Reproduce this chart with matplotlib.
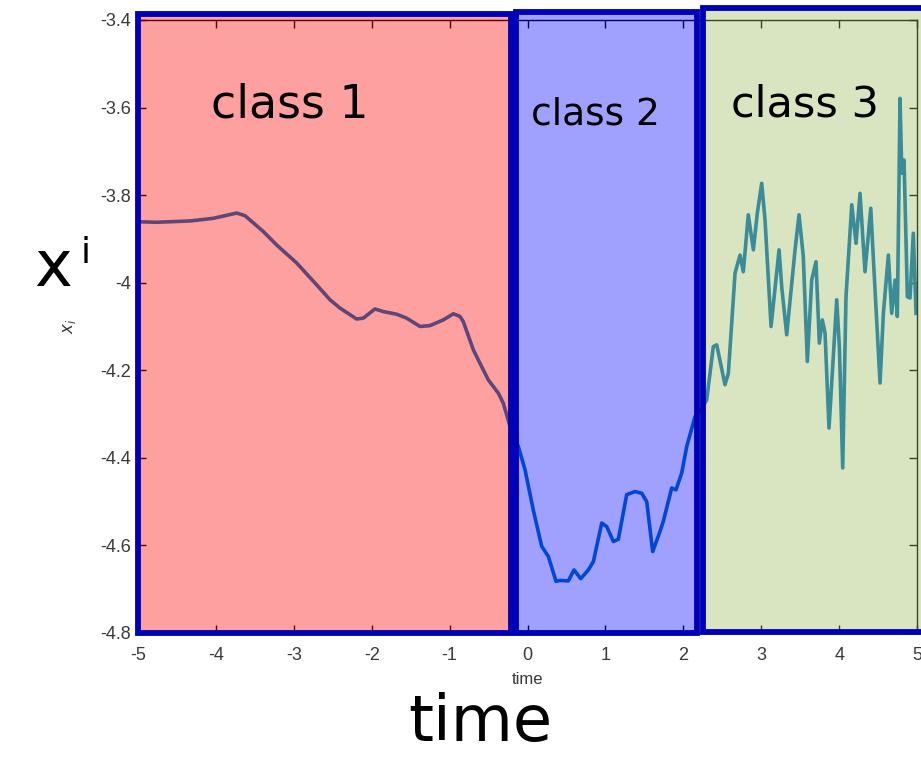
import matplotlib
matplotlib.use("Agg")
import matplotlib.pyplot as plt
from matplotlib.patches import Rectangle

# trajectory of x_i over time, one list per class segment
t_class1 = [-4.974, -4.760, -4.332, -4.033, -3.733, -3.626, -3.392, -3.219, -2.963, -2.706,
            -2.535, -2.407, -2.193, -2.108, -1.958, -1.851, -1.679, -1.551, -1.380, -1.252,
            -1.081, -0.952, -0.867, -0.824, -0.696, -0.610, -0.503, -0.375, -0.311, -0.225]
x_class1 = [-3.861, -3.862, -3.859, -3.853, -3.841, -3.847, -3.883, -3.914, -3.955, -4.005,
            -4.039, -4.058, -4.083, -4.081, -4.060, -4.066, -4.072, -4.081, -4.100, -4.098,
            -4.085, -4.071, -4.077, -4.089, -4.153, -4.184, -4.222, -4.252, -4.275, -4.328]

t_class2 = [-0.118, -0.032, 0.074, 0.182, 0.267, 0.366, 0.417, 0.524, 0.597, 0.683,
            0.781, 0.845, 0.953, 1.017, 1.102, 1.166, 1.273, 1.380, 1.466, 1.530,
            1.607, 1.701, 1.743, 1.851, 1.906, 1.979, 2.044, 2.150, 2.214]
x_class2 = [-4.374, -4.427, -4.519, -4.602, -4.625, -4.682, -4.680, -4.681, -4.656, -4.676,
            -4.656, -4.637, -4.549, -4.557, -4.591, -4.586, -4.484, -4.477, -4.481, -4.500,
            -4.614, -4.568, -4.545, -4.469, -4.473, -4.435, -4.374, -4.306, -4.294]

t_class3 = [2.300, 2.385, 2.429, 2.535, 2.578, 2.664, 2.728, 2.770, 2.834, 2.899,
            2.950, 3.006, 3.049, 3.126, 3.229, 3.263, 3.327, 3.434, 3.485, 3.540,
            3.592, 3.648, 3.703, 3.746, 3.784, 3.819, 3.870, 3.969, 4.003, 4.046,
            4.088, 4.162, 4.217, 4.268, 4.332, 4.406, 4.439, 4.525, 4.568, 4.632,
            4.675, 4.718, 4.747, 4.782, 4.804, 4.833, 4.876, 4.910, 4.952, 4.987]
x_class3 = [-4.268, -4.146, -4.142, -4.233, -4.207, -3.978, -3.937, -3.975, -3.845, -3.925,
            -3.841, -3.773, -3.857, -4.100, -3.925, -4.009, -4.119, -3.925, -3.845, -3.940,
            -4.180, -3.994, -3.952, -4.138, -4.085, -4.115, -4.332, -4.039, -4.146, -4.423,
            -4.032, -3.822, -3.910, -3.796, -3.975, -3.830, -3.944, -4.229, -4.070, -3.937,
            -4.070, -3.994, -4.077, -3.579, -3.750, -3.720, -4.032, -4.035, -3.887, -4.070]

# class windows: (start, end, bottom, top)
class_names = ["class 1", "class 2", "class 3"]
class_spans = [(-5.0, -0.212, -4.800, -3.386),
               (-0.151, 2.176, -4.800, -3.382),
               (2.254, 5.10, -4.797, -3.373)]
class_fills = [(1.0, 0.0, 0.0), (0.0, 0.0, 1.0), (0.608, 0.725, 0.357)]

xticks = [-5, -4, -3, -2, -1, 0, 1, 2, 3, 4, 5]
yticks = [-4.8, -4.6, -4.4, -4.2, -4.0, -3.8, -3.6, -3.4]
ytick_labels = ["-4.8", "-4.6", "-4.4", "-4.2", "-4", "-3.8", "-3.6", "-3.4"]

plt.rcParams["font.family"] = ["Liberation Sans", "DejaVu Sans"]
plt.rcParams["axes.unicode_minus"] = False

fig = plt.figure(figsize=(9.21, 7.62), dpi=100)
ax = fig.add_axes([0.1498, 0.1693, 0.8459, 0.8045])

t_all = t_class1 + t_class2 + t_class3
x_all = x_class1 + x_class2 + x_class3
ax.plot(t_all, x_all, color=(0, 0.447, 0.741), linewidth=2.6, zorder=2)

ax.set_xlim(-5, 5)
ax.set_ylim(-4.8, -3.4)
ax.set_xticks(xticks)
ax.set_yticks(yticks)
ax.set_yticklabels(ytick_labels)
ax.tick_params(direction="in", length=6, width=1, top=True, right=True,
               labelsize=13, colors="black", labelcolor="#3a3a3a")
ax.tick_params(axis="x", pad=10)
ax.tick_params(axis="y", pad=5)
for s in ax.spines.values():
    s.set_linewidth(1.0)

ax.set_xlabel("time", fontsize=12, color="#3a3a3a", labelpad=6)
ax.set_ylabel("$x_i$", fontsize=12, color="#3a3a3a", labelpad=16)

# translucent class overlays with heavy outlines
for (t0, t1, y0, y1), fill in zip(class_spans, class_fills):
    ax.add_patch(Rectangle((t0, y0), t1 - t0, y1 - y0,
                           facecolor=fill + (0.373,), edgecolor="#0000b8",
                           linewidth=4.2, zorder=3, clip_on=False))

# hand-written notes
label_pos = [(-3.05, -3.594), (0.87, -3.617), (3.56, -3.594)]
label_sizes = [33, 27, 31]
for name, (tx, ty), fs in zip(class_names, label_pos, label_sizes):
    ax.text(tx, ty, name, fontsize=fs, color="black", ha="center", va="center",
            family="DejaVu Sans", zorder=5, clip_on=False)

fig.text(0.058, 0.648, "x", fontsize=46, color="black", ha="center", va="center",
         family="DejaVu Sans")
fig.text(0.093, 0.668, "i", fontsize=26, color="black", ha="center", va="center",
         family="DejaVu Sans")
fig.text(0.521, 0.051, "time", fontsize=46, color="black", ha="center", va="center",
         family="DejaVu Sans")

fig.savefig("out.png", dpi=100)
